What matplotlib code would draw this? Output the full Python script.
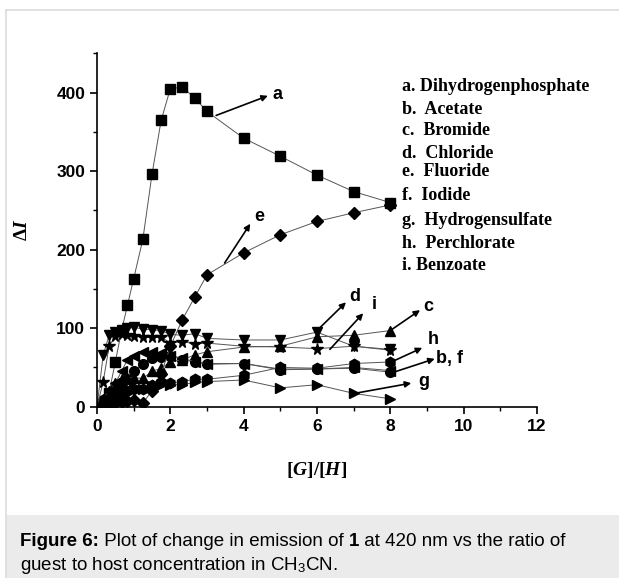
import matplotlib.pyplot as plt
from matplotlib.patches import Rectangle
from matplotlib.lines import Line2D
from matplotlib.ticker import MultipleLocator

plt.rcParams['mathtext.fontset'] = 'custom'
plt.rcParams['mathtext.rm'] = 'Liberation Serif:bold'
plt.rcParams['mathtext.it'] = 'Liberation Serif:italic:bold'
plt.rcParams['mathtext.sf'] = 'Liberation Sans'

# ratio [G]/[H] used in the titrations
ratio = [0, 0.17, 0.33, 0.5, 0.67, 0.83, 1.0, 1.25, 1.5, 1.75, 2.0, 2.33, 2.67, 3.0, 4, 5, 6, 7, 8]

# change in emission for each anion
dI_a = [0, 4, 18, 57, 97, 129, 163, 213, 296, 365, 405, 407, 393, 376, 342, 319, 295, 274, 260]
dI_b = [0, 8, 15, 22, 30, 35, 45, 55, 62, 63, 65, 60, 57, 55, 55, 47, 48, 49, 44]
dI_c = [0, 10, 20, 30, 35, 37, 37, 36, 45, 49, 57, 60, 66, 70, 76, 77, 89, 91, 97]
dI_d = [0, 66, 91, 95, 98, 100, 101, 99, 98, 97, 92, 91, 93, 87, 85, 85, 95, 77, 73]
dI_e = [0, 2, 4, 5, 6, 7, 8, 5, 20, 42, 77, 111, 140, 168, 196, 219, 236, 247, 257]
dI_f = [0, 10, 20, 30, 45, 60, 65, 70, 70, 68, 65, 62, 57, 54, 55, 48, 48, 50, 46]
dI_g = [0, 3, 6, 10, 15, 20, 25, 22, 26, 28, 28, 28, 31, 32, 34, 24, 28, 17, 10]
dI_h = [0, 5, 10, 15, 18, 20, 22, 22, 28, 32, 30, 32, 35, 35, 40, 50, 49, 55, 57]
dI_i = [0, 32, 77, 90, 93, 91, 90, 89, 89, 89, 81, 83, 80, 81, 77, 76, 74, 77, 72]

legend_lines = ["a. Dihydrogenphosphate", "b.  Acetate", "c.  Bromide", "d.  Chloride",
                "e.  Fluoride", "f.  Iodide", "g.  Hydrogensulfate", "h.  Perchlorate",
                "i. Benzoate"]

fig = plt.figure(figsize=(6.19, 5.78), dpi=100)

# page frame and caption box
fig.add_artist(Line2D([6 / 619, 6 / 619], [0, 1 - 10 / 578], color='#dcdcdc', lw=1.2))
fig.add_artist(Line2D([6 / 619, 1], [1 - 10 / 578, 1 - 10 / 578], color='#dcdcdc', lw=1.2))
fig.add_artist(Rectangle((6 / 619, 0), 1, 63 / 578, color='#ebebeb', lw=0))

ax = fig.add_axes([97 / 619, 1 - 406.7 / 578, 440 / 619, 353.3 / 578])

series = [(dI_a, 's', 6.5), (dI_b, 'o', 7), (dI_c, '^', 7.5), (dI_d, 'v', 7.5), (dI_e, 'D', 6),
          (dI_f, '<', 7.5), (dI_g, '>', 7.5), (dI_h, 'h', 7.5), (dI_i, '*', 8.5)]
for y, m, ms in series:
    ax.plot(ratio, y, color='#555555', lw=0.7, marker=m, ms=ms,
            mfc='black', mec='black', clip_on=True)

ax.set_xlim(0, 12)
ax.set_ylim(0, 450)
ax.xaxis.set_major_locator(MultipleLocator(2))
ax.xaxis.set_minor_locator(MultipleLocator(1))
ax.yaxis.set_major_locator(MultipleLocator(100))
ax.yaxis.set_minor_locator(MultipleLocator(50))
for s in ['top', 'right']:
    ax.spines[s].set_visible(False)
for s in ['left', 'bottom']:
    ax.spines[s].set_linewidth(1.2)
ax.tick_params(which='major', direction='out', length=5, width=1.2)
ax.tick_params(which='minor', direction='out', length=3, width=1.0)
for lab in ax.get_xticklabels() + ax.get_yticklabels():
    lab.set_fontfamily('Liberation Sans')
    lab.set_fontweight('bold')
    lab.set_fontsize(12.5)

ax.set_xlabel(r'$\mathrm{[}\mathit{G}\mathrm{]/[}\mathit{H}\mathrm{]}$', fontsize=14, labelpad=19)
ax.set_ylabel(r'$\Delta\mathit{I}$', fontsize=14, labelpad=18)

# arrows with labels
arrows = [((3.25, 371), (4.66, 396), 'a', (4.93, 398)),
          ((3.48, 183), (4.18, 233), 'e', (4.43, 242)),
          ((6.0, 97), (6.79, 133), 'd', (7.02, 140)),
          ((6.35, 73), (7.26, 119), 'i', (7.57, 130)),
          ((8.03, 98), (8.81, 123), 'c', (9.03, 127)),
          ((8.03, 57), (8.87, 75), 'h', (9.16, 85)),
          ((8.03, 43), (9.21, 61), 'b, f', (9.62, 62)),
          ((7.03, 17), (8.57, 30), 'g', (8.91, 32))]
for start, end, txt, pos in arrows:
    ax.annotate('', xy=end, xytext=start,
                arrowprops=dict(arrowstyle='-|>', color='black', lw=1.2,
                                mutation_scale=9, shrinkA=0, shrinkB=0))
    ax.text(pos[0], pos[1], txt, fontsize=13, fontweight='bold',
            family='Liberation Sans', ha='center', va='center')

legend_y = [86.7, 109.3, 130.7, 153.3, 171, 196, 220.7, 243.3, 265]
for txt, yy in zip(legend_lines, legend_y):
    fig.text(402 / 619, 1 - yy / 578, txt, family='Liberation Serif', fontweight='bold',
             fontsize=13, ha='left', va='center')

# caption
renderer = fig.canvas.get_renderer()
cap_size = 13.5
def put_pieces(pieces, y):
    x = 20 / 619
    for txt, w in pieces:
        t = fig.text(x, 1 - y / 578, txt, family='Liberation Sans', fontweight=w,
                     fontsize=cap_size, ha='left', va='center')
        bb = t.get_window_extent(renderer)
        x = bb.x1 / fig.bbox.width

put_pieces([("Figure 6:", 'bold'), (" Plot of change in emission of ", 'normal'),
            ("1", 'bold'), (" at 420 nm vs the ratio of", 'normal')], 542)
put_pieces([("guest to host concentration in CH$_\\mathsf{3}$CN.", 'normal')], 565)

fig.savefig('out.png', dpi=100)
